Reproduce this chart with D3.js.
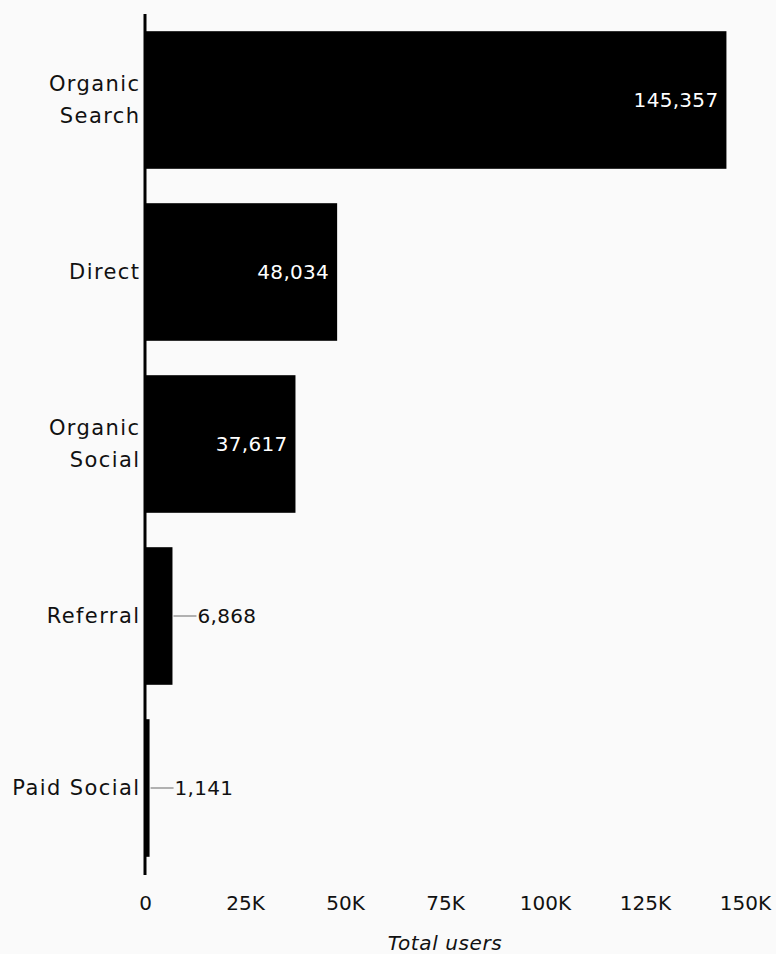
<!DOCTYPE html>
<html><head><meta charset="utf-8">
<script src="https://cdn.jsdelivr.net/npm/d3@7"></script>
<style>
html,body{margin:0;padding:0;background:#fafafa;}
svg{display:block;font-family:"DejaVu Sans",sans-serif;}
</style></head>
<body>
<script>
const categories = ["Organic Search","Direct","Organic Social","Referral","Paid Social"];
const categoryLines = [["Organic","Search"],["Direct"],["Organic","Social"],["Referral"],["Paid Social"]];
const values = [145357,48034,37617,6868,1141];
const tickValues = [0,25000,50000,75000,100000,125000,150000];
const tickLabels = ["0","25K","50K","75K","100K","125K","150K"];
const axisTitle = "Total users";

const W=776,H=954;
const svg=d3.select("body").append("svg").attr("width",W).attr("height",H);
svg.append("rect").attr("width",W).attr("height",H).attr("fill","#fafafa");

const x=d3.scaleLinear().domain([0,150000]).range([145,745]);
const y=d3.scaleBand().domain(categories).range([14,874]).paddingInner(0.2).paddingOuter(0.1);
const fs=20;

// bars
svg.selectAll("rect.bar").data(values).enter().append("rect")
  .attr("x",x(0)).attr("y",(d,i)=>y(categories[i]))
  .attr("width",d=>x(d)-x(0)).attr("height",y.bandwidth()).attr("fill","#000");

// axis line
svg.append("line").attr("x1",x(0)).attr("x2",x(0)).attr("y1",14).attr("y2",875)
  .attr("stroke","#000").attr("stroke-width",3);

// category labels
const ls=1.4;
categories.forEach((c,i)=>{
  const lines=categoryLines[i];
  const cy=y(c)+y.bandwidth()/2;
  const lh=32;
  const t=svg.append("text").attr("text-anchor","end").attr("font-size",21)
    .attr("letter-spacing",ls).attr("fill","#111");
  lines.forEach((l,j)=>{
    t.append("tspan").attr("x",139+ls).attr("y",cy+(j-(lines.length-1)/2)*lh).attr("dy","0.35em").text(l);
  });
});

// value labels
const fmt=d3.format(",");
values.forEach((v,i)=>{
  const cy=y(categories[i])+y.bandwidth()/2;
  const w=x(v)-x(0);
  if(w>90){
    svg.append("text").attr("x",x(v)-8).attr("y",cy).attr("dy","0.35em")
      .attr("text-anchor","end").attr("font-size",fs).attr("letter-spacing",0.3).attr("fill","#fff").text(fmt(v));
  } else {
    svg.append("line").attr("x1",x(v)+1).attr("x2",x(v)+24).attr("y1",cy).attr("y2",cy)
      .attr("stroke","#999").attr("stroke-width",1.5);
    svg.append("text").attr("x",x(v)+25).attr("y",cy).attr("dy","0.35em")
      .attr("text-anchor","start").attr("font-size",fs).attr("letter-spacing",0.3).attr("fill","#111").text(fmt(v));
  }
});

// x axis
const ax=d3.axisBottom(x).tickValues(tickValues).tickFormat((d,i)=>tickLabels[i]).tickSize(0).tickPadding(0);
const g=svg.append("g").attr("transform","translate(0,896)").call(ax);
g.select(".domain").remove();
g.selectAll("text").attr("font-size",fs).attr("fill","#111").attr("font-family","DejaVu Sans, sans-serif");

svg.append("text").attr("x",445).attr("y",950).attr("text-anchor","middle")
  .attr("font-size",fs).attr("font-style","italic").attr("letter-spacing",0.6).attr("fill","#111").text(axisTitle);
</script>
</body></html>
